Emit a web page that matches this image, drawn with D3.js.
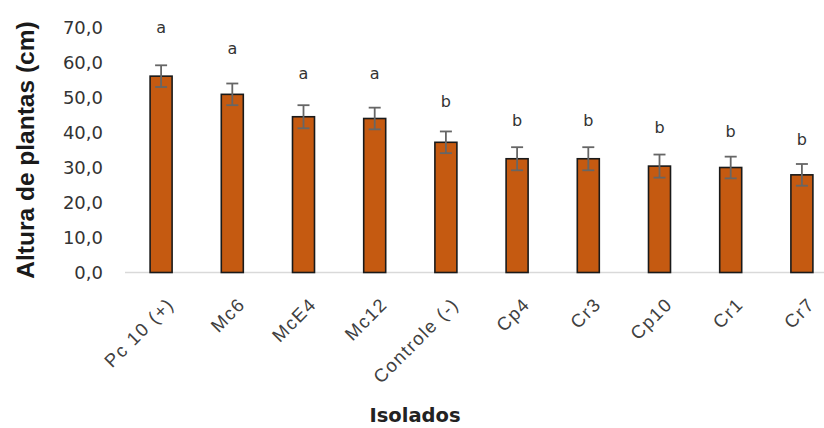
<!DOCTYPE html>
<html>
<head>
<meta charset="utf-8">
<script src="https://cdn.jsdelivr.net/npm/d3@7"></script>
<style>
  html, body { margin: 0; padding: 0; background: #fff; }
  svg { display: block; }
</style>
</head>
<body>
<svg id="chart" width="824" height="428"></svg>
<script>
const categories = ["Pc 10 (+)", "Mc6", "McE4", "Mc12", "Controle (-)", "Cp4", "Cr3", "Cp10", "Cr1", "Cr7"];
const heights = [56.1, 50.9, 44.5, 44.0, 37.2, 32.5, 32.5, 30.4, 30.0, 27.9];
const errors = [3.1, 3.1, 3.3, 3.1, 3.1, 3.3, 3.3, 3.3, 3.1, 3.1];
const letters = ["a", "a", "a", "a", "b", "b", "b", "b", "b", "b"];
const letterLevels = [70.1, 64.1, 57.0, 57.0, 48.8, 43.6, 43.6, 41.5, 40.2, 37.9];
const yTicks = [0, 10, 20, 30, 40, 50, 60, 70];

const svg = d3.select("#chart");
const x = d3.scalePoint().domain(categories).range([125.5, 837.5]).padding(0.5);
const y = d3.scaleLinear().domain([0, 70]).range([272.5, 27.5]);
const barW = 22;

// baseline
svg.append("line")
  .attr("x1", 125).attr("x2", 824)
  .attr("y1", y(0)).attr("y2", y(0))
  .attr("stroke", "#d9d9d9").attr("stroke-width", 1.5);

// y axis
const yAxis = d3.axisLeft(y).tickValues(yTicks).tickSize(0).tickPadding(22)
  .tickFormat(d => d3.format(".1f")(d).replace(".", ","));
const gy = svg.append("g").attr("transform", "translate(125,0)").call(yAxis);
gy.select(".domain").remove();
gy.selectAll("text")
  .attr("font-family", "'DejaVu Sans', sans-serif")
  .attr("font-size", 18)
  .attr("fill", "#333")
  .attr("dy", "0.36em");

// bars
const data = categories.map((c, i) => ({c, v: heights[i], e: errors[i], l: letters[i], ll: letterLevels[i]}));
svg.append("g").selectAll("rect").data(data).join("rect")
  .attr("x", d => x(d.c) - barW / 2)
  .attr("y", d => y(d.v))
  .attr("width", barW)
  .attr("height", d => y(0) - y(d.v))
  .attr("fill", "#C55A11")
  .attr("stroke", "#1a1a1a")
  .attr("stroke-width", 1.6);

// error bars
const eg = svg.append("g").attr("stroke", "#666").attr("stroke-width", 1.8);
data.forEach(d => {
  const cx = x(d.c);
  eg.append("line").attr("x1", cx).attr("x2", cx).attr("y1", y(d.v + d.e)).attr("y2", y(d.v - d.e));
  eg.append("line").attr("x1", cx - 6).attr("x2", cx + 6).attr("y1", y(d.v + d.e)).attr("y2", y(d.v + d.e));
  eg.append("line").attr("x1", cx - 6).attr("x2", cx + 6).attr("y1", y(d.v - d.e)).attr("y2", y(d.v - d.e));
});

// letters
svg.append("g").selectAll("text").data(data).join("text")
  .attr("x", d => x(d.c))
  .attr("y", d => y(d.ll))
  .attr("dy", "0.35em")
  .attr("text-anchor", "middle")
  .attr("font-family", "'DejaVu Sans', sans-serif")
  .attr("font-size", 16)
  .attr("fill", "#333")
  .text(d => d.l);

// x category labels
svg.append("g").selectAll("text").data(categories).join("text")
  .attr("transform", d => `translate(${x(d) + 14},${y(0) + 33}) rotate(-45)`)
  .attr("text-anchor", "end")
  .attr("font-family", "'Liberation Sans', Arial, sans-serif")
  .attr("font-size", 18.5)
  .attr("letter-spacing", 1.5)
  .attr("fill", "#404040")
  .text(d => d);

// axis titles
svg.append("text")
  .attr("transform", `translate(34,150) rotate(-90)`)
  .attr("text-anchor", "middle")
  .attr("font-family", "'Liberation Sans', Arial, sans-serif")
  .attr("font-weight", "bold")
  .attr("font-size", 24.5)
  .attr("fill", "#1a1a1a")
  .text("Altura de plantas (cm)");

svg.append("text")
  .attr("x", 415).attr("y", 422)
  .attr("text-anchor", "middle")
  .attr("font-family", "'DejaVu Sans', sans-serif")
  .attr("font-weight", "bold")
  .attr("font-size", 19.5)
  .attr("fill", "#222")
  .text("Isolados");
</script>
</body>
</html>
